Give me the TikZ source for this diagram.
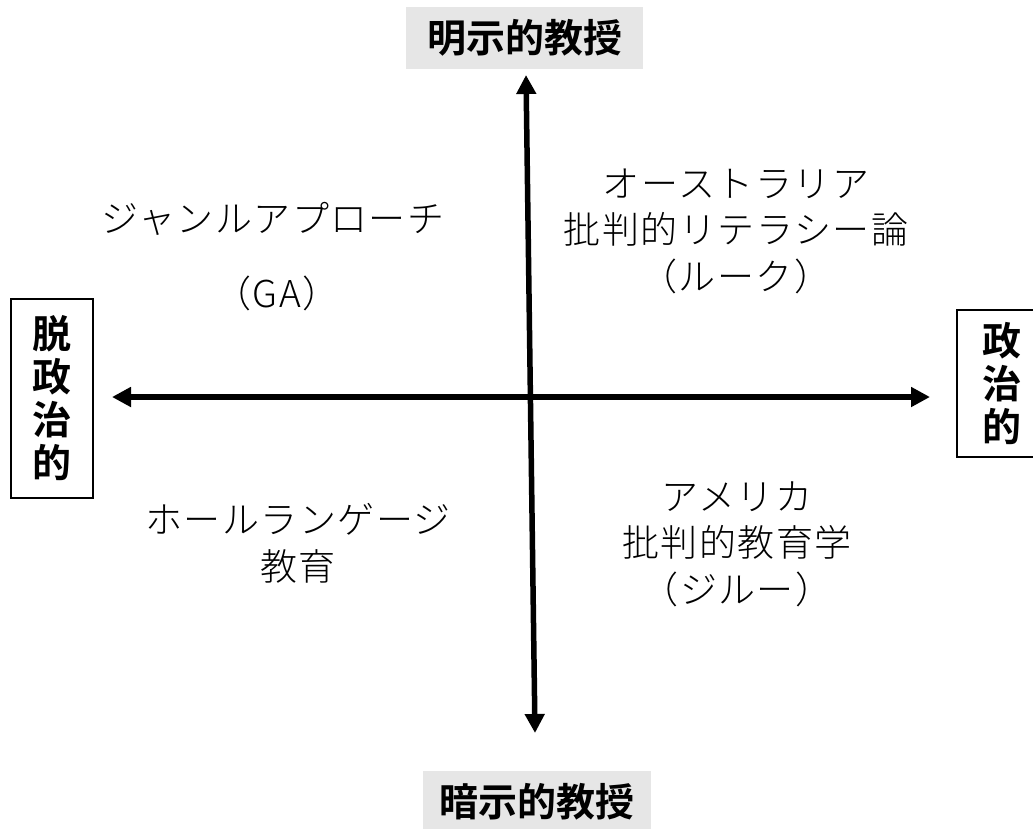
\documentclass[tikz,border=0pt]{standalone}
\usepackage{fontspec}
\newfontfamily\jp{Noto Sans CJK JP}[BoldFont={Noto Sans CJK JP Bold}]
\newfontfamily\jpl{Noto Sans CJK JP Light}[LetterSpace=4]
\usetikzlibrary{arrows.meta}
\definecolor{labelgray}{HTML}{E6E6E6}
\begin{document}
\begin{tikzpicture}[x=1pt,y=-1pt,
  quad/.style={align=center,inner sep=0pt,font=\jpl\fontsize{37}{46.5}\selectfont},
  axislabel/.style={fill=labelgray,inner sep=0pt,font=\jp\bfseries\fontsize{39}{43}\selectfont},
  sidebox/.style={draw,line width=1.6pt,align=center,inner sep=0pt,font=\jp\bfseries\fontsize{39}{43}\selectfont},
  axis/.style={line width=5.5pt,{Triangle[length=19pt,width=19pt]}-{Triangle[length=19pt,width=19pt]}}]
\useasboundingbox (0,0) rectangle (1033,828);
\clip (0,0) rectangle (1033,828);
% axis labels
\node[axislabel,minimum width=237pt,minimum height=62pt] (top) at (524.5,38) {明示的教授};
\node[axislabel,minimum width=228pt,minimum height=62pt] (bottom) at (537,802) {暗示的教授};
\node[sidebox,minimum width=82pt,minimum height=199pt] (left) at (52,398.5) {脱\\政\\治\\的};
\node[sidebox,minimum width=90pt,minimum height=147pt] (right) at (1002,383.5) {政\\治\\的};
% axes
\coordinate (vtop) at (526,75);
\coordinate (vbot) at (535,733);
\coordinate (hleft) at (112,397);
\coordinate (hright) at (930,397);
\draw[axis] (vtop) -- (vbot);
\draw[axis] (hleft) -- (hright);
% quadrant texts
\node[quad] (ga1) at (273,219) {ジャンルアプローチ};
\node[quad] (ga2) at (277,293) {（GA）};
\node[quad] (aus) at (736,231) {オーストラリア\\批判的リテラシー論\\（ルーク）};
\node[quad] (wl) at (298,543.5) {ホールランゲージ\\教育};
\node[quad] (usa) at (737,544) {アメリカ\\批判的教育学\\（ジルー）};
\end{tikzpicture}
\end{document}
